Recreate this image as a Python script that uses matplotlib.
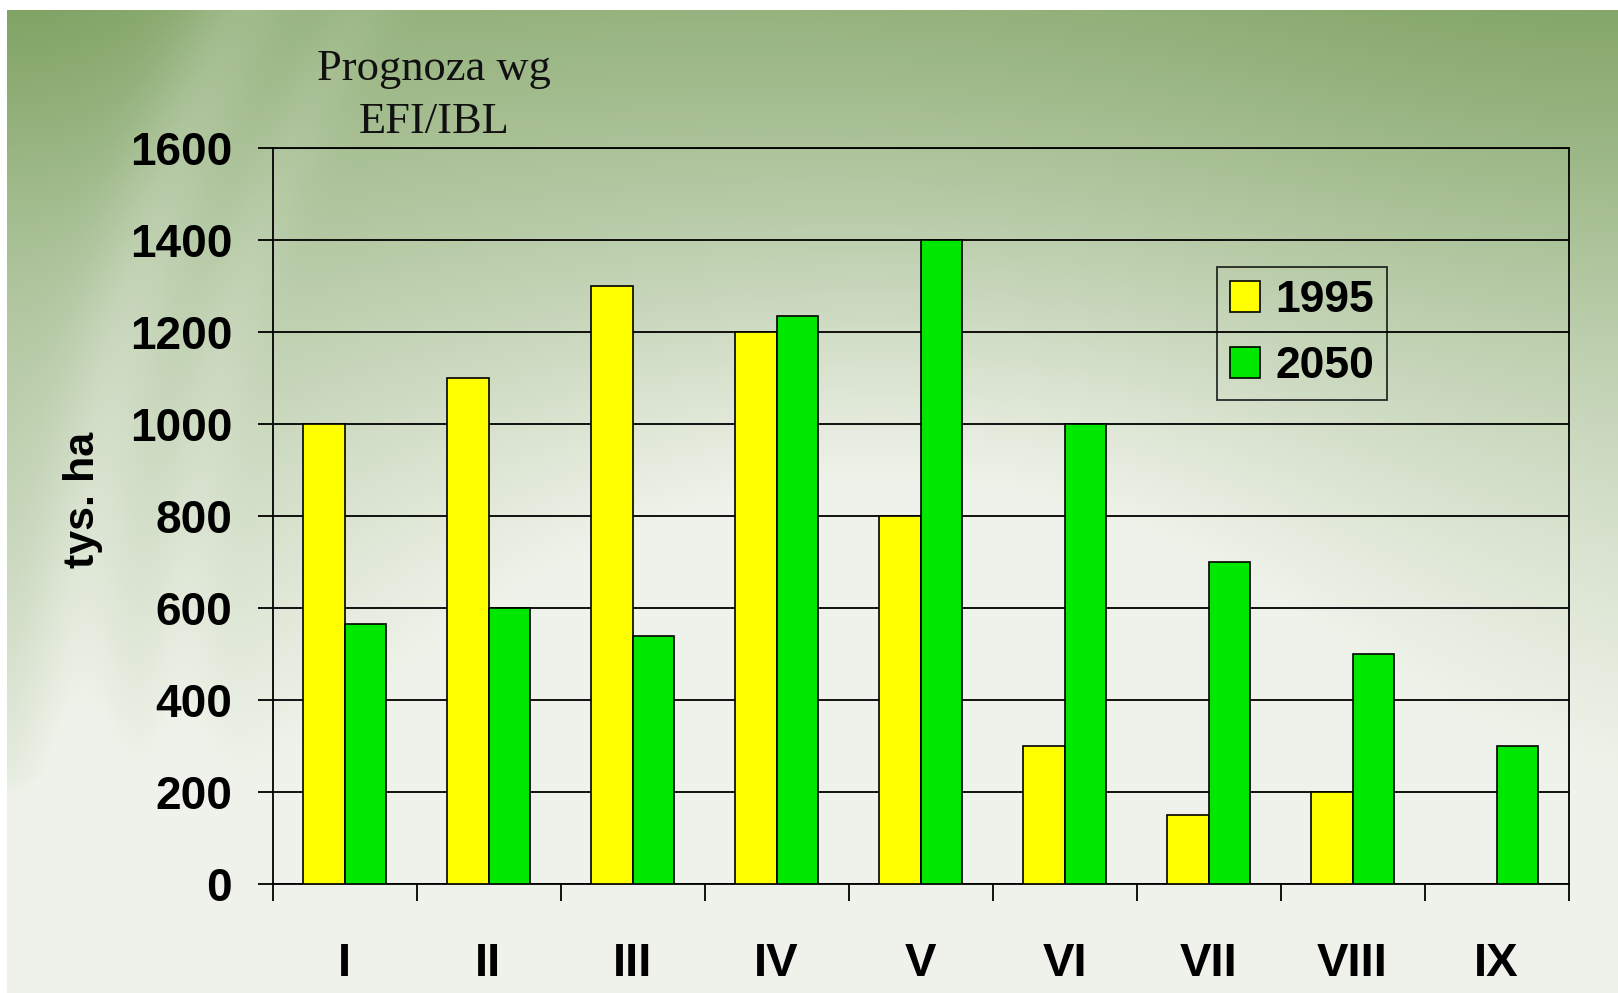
import numpy as np
import matplotlib
matplotlib.use("Agg")
import matplotlib.pyplot as plt
from matplotlib.ticker import FixedLocator, NullFormatter

# ---------------- data ----------------
categories = ["I", "II", "III", "IV", "V", "VI", "VII", "VIII", "IX"]
series_names = ["1995", "2050"]
values_1995 = [1000, 1100, 1300, 1200, 800, 300, 150, 200, 0]
values_2050 = [565, 600, 540, 1235, 1400, 1000, 700, 500, 300]
y_ticks = [0, 200, 400, 600, 800, 1000, 1200, 1400, 1600]
title_lines = ["Prognoza wg", "EFI/IBL"]
y_label = "tys. ha"

W, H, DPI = 1618, 993, 100
fig = plt.figure(figsize=(W / DPI, H / DPI), dpi=DPI)

# ---------------- background gradient ----------------
yy, xx = np.mgrid[0:H, 0:W].astype(float)
u = xx / W
v = yy / H
light = 0.22 + 0.85 * v ** 0.9
light += 0.30 * np.exp(-(((u - 0.55) ** 2) / 0.10 + ((v - 0.6) ** 2) / 0.12))
light -= 0.12 * np.exp(-(((u - 1.0) ** 2) / 0.08 + (v ** 2) / 0.08))
light -= 0.15 * np.exp(-((u ** 2) / 0.02 + (v ** 2) / 0.06))
light -= 0.10 * np.exp(-((u ** 2) / 0.02 + ((v - 0.6) ** 2) / 0.08))
# light swoosh arcs on the left
r = np.sqrt(((xx - 1500) / 1.0) ** 2 + ((yy - 700) / 1.05) ** 2)
light += 0.14 * np.exp(-((r - 1420) ** 2) / (2 * 35 ** 2))
light += 0.08 * np.exp(-((r - 1320) ** 2) / (2 * 25 ** 2))
# bottom-left whitening
light += 0.5 * np.clip((v - 0.78) * 4, 0, 1) * np.clip(1 - u * 2.5, 0, 1)
light = np.clip(light, 0, 0.93)
dark = np.array([118, 156, 88]) / 255.0
bright = np.array([248, 249, 245]) / 255.0
img = dark[None, None, :] * (1 - light[..., None]) + bright[None, None, :] * light[..., None]
img[:10, :, :] = 1.0
img[:, :7, :] = 1.0

bg = fig.add_axes([0, 0, 1, 1], zorder=-10)
bg.imshow(img, aspect="auto", interpolation="bilinear")
bg.set_axis_off()

# ---------------- main axes ----------------
left, right, bottom, top = 272.5, 1568.5, 884.0, 148.0
ax = fig.add_axes([left / W, 1 - bottom / H, (right - left) / W, (bottom - top) / H])
ax.patch.set_alpha(0)

x = np.arange(len(categories))
bw = 0.285
ax.bar(x - bw / 2, values_1995, bw, color="#ffff00", edgecolor="black", linewidth=1.2, label=series_names[0], zorder=3)
ax.bar(x + bw / 2, values_2050, bw, color="#00e800", edgecolor="black", linewidth=1.2, label=series_names[1], zorder=3)

ax.set_xlim(-0.5, len(categories) - 0.5)
ax.set_ylim(0, 1600)
ax.set_yticks(y_ticks)
ax.yaxis.grid(True, color="black", linewidth=1.3, zorder=1)
ax.set_axisbelow(True)

for s in ["left", "bottom", "right", "top"]:
    ax.spines[s].set_color("black")
    ax.spines[s].set_linewidth(1.3)

tick_font = dict(family="Liberation Sans", weight="bold", size=33)
ax.set_yticklabels([str(t) for t in y_ticks], fontdict=tick_font)
ax.tick_params(axis="y", direction="out", length=11, width=1.3, pad=18, colors="black")

ax.set_xticks(x)
ax.set_xticklabels(categories, fontdict=dict(family="Liberation Sans", weight="bold", size=34))
ax.tick_params(axis="x", which="major", length=0, pad=42)
ax.xaxis.set_minor_locator(FixedLocator(np.arange(-0.5, len(categories), 1.0)))
ax.xaxis.set_minor_formatter(NullFormatter())
ax.tick_params(axis="x", which="minor", direction="out", length=12, width=1.3, colors="black")

ax.set_ylabel(y_label, fontdict=dict(family="Liberation Sans", weight="bold", size=31), labelpad=0)
ax.yaxis.set_label_coords((103 - left) / (right - left), (bottom - 500) / (bottom - top))

# title text
fig.text(434 / W, 1 - 80 / H, title_lines[0], family="Liberation Serif", size=32,
         ha="center", va="baseline", color="#111111")
fig.text(434 / W, 1 - 133 / H, title_lines[1], family="Liberation Serif", size=32,
         ha="center", va="baseline", color="#111111")

leg = ax.legend(loc="upper left", bbox_to_anchor=(1217 / W, 1 - 267 / H), bbox_transform=fig.transFigure,
                prop=dict(family="Liberation Sans", weight="bold", size=32),
                frameon=True, fancybox=False, handlelength=0.66, handleheight=0.7,
                handletextpad=0.35, borderpad=0.3, labelspacing=0.55, borderaxespad=0)
leg.get_frame().set_edgecolor("black")
leg.get_frame().set_linewidth(1.3)
leg.get_frame().set_facecolor("none")

fig.savefig("out.png", dpi=DPI)
